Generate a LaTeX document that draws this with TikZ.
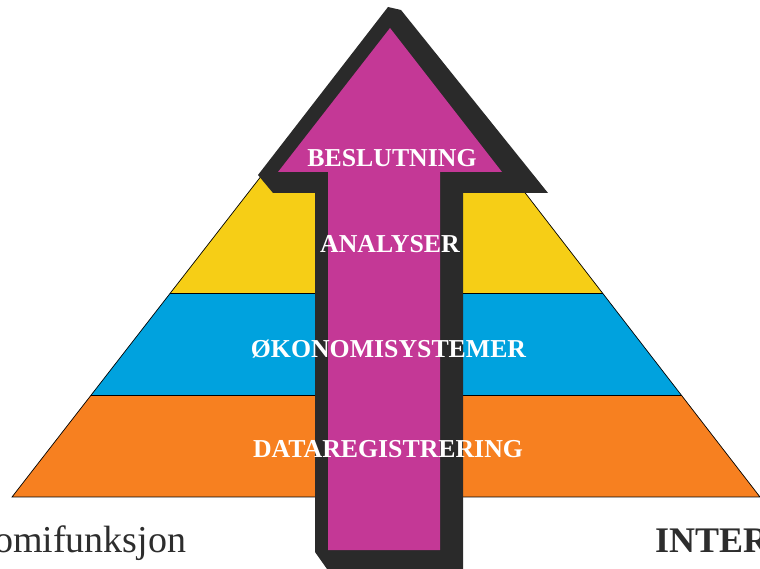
\documentclass[tikz,border=0pt]{standalone}
\usepackage{fontspec}
\setmainfont{Liberation Serif}
\usepackage{tikz}
\usetikzlibrary{calc,positioning}
\definecolor{oransje}{RGB}{247,128,32}
\definecolor{blaa}{RGB}{0,162,222}
\definecolor{gul}{RGB}{246,206,22}
\definecolor{lilla}{RGB}{196,56,150}
\definecolor{skygge}{RGB}{42,42,42}
\definecolor{tekst}{RGB}{45,45,45}
\tikzset{
  lag/.style={draw=black, line width=0.7pt},
  etikett/.style={
    text=white,
    font=\fontsize{25.8}{30}\selectfont\bfseries,
    anchor=base,
    inner sep=0pt},
  tittel/.style={
    text=tekst,
    anchor=base west,
    inner sep=0pt},
}

\begin{document}
\begin{tikzpicture}[x=1pt,y=-1pt]
  \useasboundingbox (0,0) rectangle (760,569);
  % pyramiden
  \coordinate (topp) at (387,14);
  \coordinate (vbunn) at (12,497);
  \coordinate (hbunn) at (760,497);
  \begin{scope}
    \clip (topp) -- (vbunn) -- (hbunn) -- cycle;
    \fill[oransje] (0,395) rectangle (760,497);
    \fill[blaa] (0,293) rectangle (760,395);
    \fill[gul] (0,0) rectangle (760,293);
    \draw[lag] (0,293) -- (760,293) (0,395) -- (760,395);
  \end{scope}
  \draw[lag] (topp) -- (vbunn) -- (hbunn) -- cycle;
  % pila med skygge
  \fill[skygge] (388,7) -- (401,10) -- (548,193) -- (463,193) -- (463,569)
    -- (327,569) -- (315,552) -- (315,193) -- (273,193) -- (258,175) -- cycle;
  \fill[lilla] (390,28) -- (502,172) -- (440,172) -- (440,550) -- (328,550)
    -- (328,172) -- (278,172) -- cycle;
  % tekster
  \node[etikett] (beslutning) at (392,167) {BESLUTNING};
  \node[etikett] (analyser) at (390,253) {ANALYSER};
  \node[etikett] (okonomi) at (388.5,357) {ØKONOMISYSTEMER};
  \node[etikett] (data) at (388,457) {DATAREGISTRERING};
  \node[tittel, font=\fontsize{38}{42}\selectfont] (funksjon) at (-6,552) {omifunksjon};
  \node[tittel, font=\fontsize{36}{42}\selectfont\bfseries] (inter) at (655,552) {INTER};
\end{tikzpicture}
\end{document}
